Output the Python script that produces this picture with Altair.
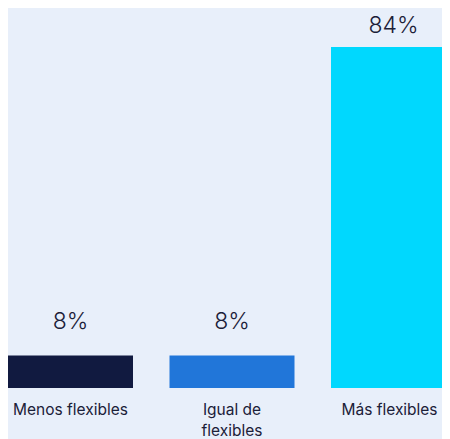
import altair as alt
import pandas as pd

categories = ["Menos flexibles", "Igual de\nflexibles", "Más flexibles"]
values = [8, 8, 84]
labels = ["8%", "8%", "84%"]
colors = ["#111a40", "#2176d9", "#00d8fe"]

df = pd.DataFrame({"cat": categories, "value": values, "label": labels})

x = alt.X("cat:N", sort=categories, axis=None,
          scale=alt.Scale(paddingInner=0.226, paddingOuter=0, range=[0, 448]))
y = alt.Y("value:Q", axis=None, scale=alt.Scale(domain=[0, 93.6], nice=False))

base = alt.Chart(df).encode(x=x)

bars = base.mark_bar().encode(
    y=y,
    color=alt.Color("cat:N", sort=categories,
                    scale=alt.Scale(domain=categories, range=colors), legend=None),
)

txt_small = base.transform_filter("datum.value < 50").mark_text(
    font="Inter", fontSize=23, fontWeight=300, color="#1b2038", baseline="alphabetic", dy=-27
).encode(y=y, text="label:N")

txt_big = base.transform_filter("datum.value >= 50").mark_text(
    font="Inter", fontSize=23, fontWeight=300, color="#1b2038", baseline="alphabetic", dy=-14
).encode(y=y, text="label:N")

cat_style = dict(font="Inter", fontSize=15.5, color="#1b2038", baseline="alphabetic",
                 dy=27, lineBreak="\n", lineHeight=21)

cat_txt = base.transform_filter(alt.datum.cat != categories[-1]).mark_text(
    **cat_style
).encode(y=alt.datum(0), text="cat:N")

cat_txt_last = base.transform_filter(alt.datum.cat == categories[-1]).mark_text(
    dx=-4, **cat_style
).encode(y=alt.datum(0), text="cat:N")

chart = alt.layer(bars, txt_small, txt_big, cat_txt, cat_txt_last).properties(
    width=434, height=380,
    background="#e8effa",
    padding={"left": 0, "top": 0, "right": 0, "bottom": 51},
    autosize=alt.AutoSizeParams(type="none"),
).configure_view(stroke=None)

chart.save("out.html", embed_options={"renderer": "svg", "actions": False})
